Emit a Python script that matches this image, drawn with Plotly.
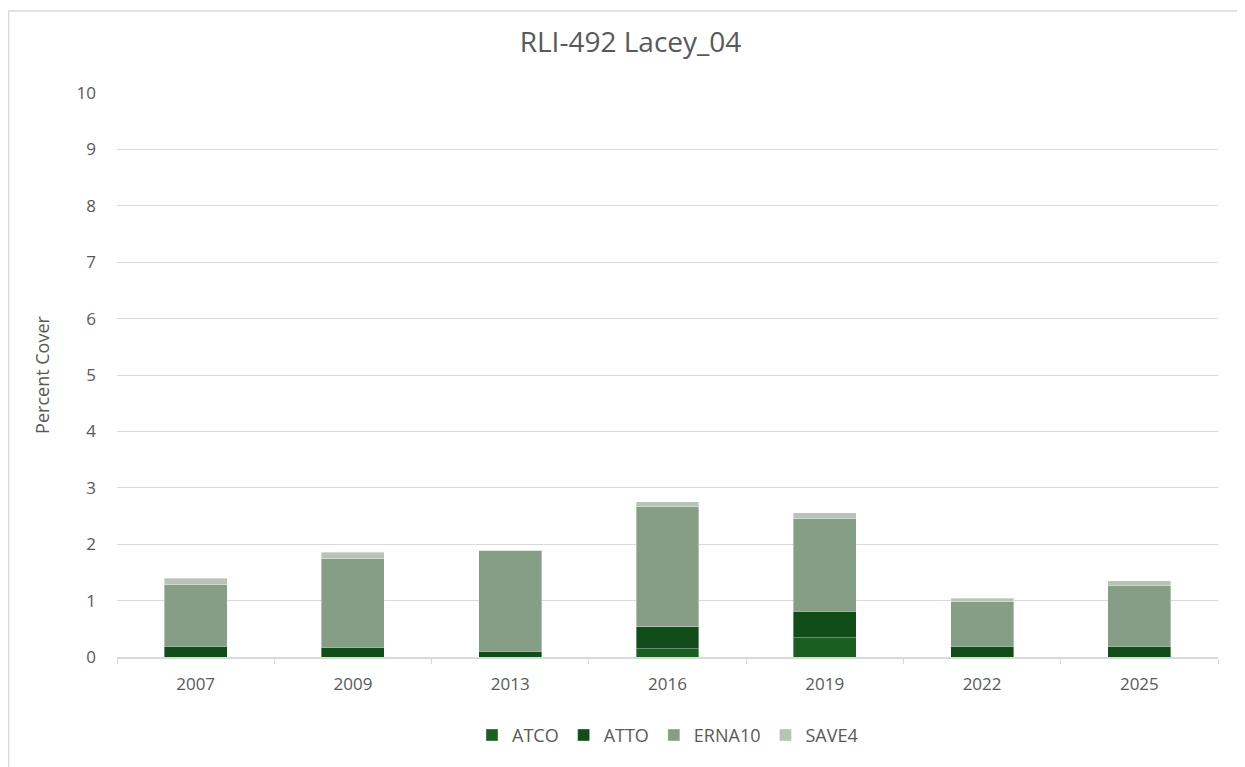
import plotly.graph_objects as go

years = ["2007", "2009", "2013", "2016", "2019", "2022", "2025"]
atco = [0.0, 0.0, 0.0, 0.15, 0.34, 0.0, 0.0]
atto = [0.19, 0.17, 0.10, 0.39, 0.47, 0.19, 0.19]
erna10 = [1.09, 1.57, 1.79, 2.13, 1.65, 0.79, 1.08]
save4 = [0.12, 0.12, 0.0, 0.08, 0.10, 0.06, 0.08]

series = [
    ("ATCO", atco, "#1a5e22"),
    ("ATTO", atto, "#114d19"),
    ("ERNA10", erna10, "#869e86"),
    ("SAVE4", save4, "#b7c4b6"),
]

grey = "#595959"
fig = go.Figure()
for name, vals, color in series:
    fig.add_trace(go.Bar(
        x=years, y=vals, name=name,
        marker=dict(color=color, line=dict(color="rgba(255,255,255,0.6)", width=0.6)),
    ))

# page body adds an 8px offset, so margins are shifted to keep the plot area in place
fig.update_layout(
    barmode="stack",
    bargap=0.6,
    width=1245, height=767,
    margin=dict(l=109, r=35, t=85, b=118),
    paper_bgcolor="white",
    plot_bgcolor="white",
    font=dict(family="Open Sans, Liberation Sans, sans-serif", color=grey, size=17),
    title=dict(text="RLI-492 Lacey_04", x=0.5, xanchor="center", y=0.9557,
               yanchor="middle", font=dict(size=28, color=grey)),
    legend=dict(orientation="h", x=0.5, xanchor="center", y=-0.106, yanchor="top",
                font=dict(size=18, color=grey), itemwidth=30, traceorder="normal"),
    xaxis=dict(
        type="category", showgrid=False, showline=True, linecolor="#d9d9d9",
        linewidth=1.5, ticks="outside", tickson="boundaries", ticklen=5,
        tickcolor="#d9d9d9", tickfont=dict(size=17, color=grey),
        ticklabelstandoff=11,
    ),
    yaxis=dict(
        range=[0, 10], dtick=1, showgrid=True, gridcolor="#d9d9d9", gridwidth=1.2,
        zeroline=False, showline=False, tickfont=dict(size=17, color=grey),
        ticklabelstandoff=20,
        title=dict(text="Percent Cover", font=dict(size=18, color=grey), standoff=22),
    ),
    shapes=[dict(type="rect", xref="paper", yref="paper", x0=-0.0985, x1=1.0236,
                 y0=-0.25, y1=1.1455, line=dict(color="#d9d9d9", width=1.5),
                 fillcolor="rgba(0,0,0,0)", layer="below")],
)

fig.write_html("out.html")
